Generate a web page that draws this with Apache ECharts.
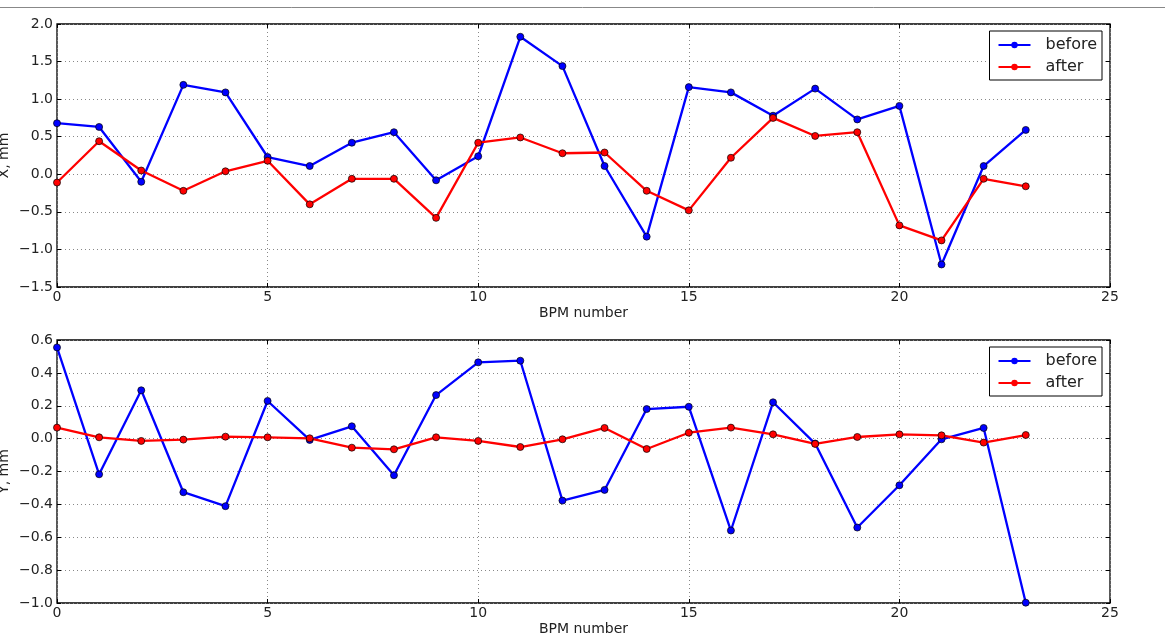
<!DOCTYPE html>
<html>
<head>
<meta charset="utf-8">
<script src="https://cdn.jsdelivr.net/npm/echarts@6/dist/echarts.min.js"></script>
<style>
html,body{margin:0;padding:0;background:#fff;}
#c{width:1165px;height:642px;}
</style>
</head>
<body>
<div id="c"></div>
<script>
const bpm = [0,1,2,3,4,5,6,7,8,9,10,11,12,13,14,15,16,17,18,19,20,21,22,23];
const xBefore = [0.68,0.63,-0.10,1.19,1.09,0.23,0.11,0.42,0.56,-0.08,0.24,1.83,1.44,0.11,-0.83,1.16,1.09,0.78,1.14,0.73,0.91,-1.20,0.11,0.59];
const xAfter = [-0.11,0.44,0.05,-0.22,0.04,0.18,-0.40,-0.06,-0.06,-0.58,0.42,0.49,0.28,0.29,-0.22,-0.48,0.22,0.75,0.51,0.56,-0.68,-0.88,-0.06,-0.16];
const yBefore = [0.555,-0.217,0.294,-0.326,-0.411,0.229,-0.008,0.075,-0.223,0.265,0.464,0.474,-0.377,-0.312,0.180,0.194,-0.559,0.221,-0.030,-0.541,-0.284,-0.004,0.065,-0.998];
const yAfter = [0.067,0.008,-0.014,-0.006,0.012,0.008,0.002,-0.055,-0.065,0.008,-0.014,-0.051,-0.004,0.065,-0.063,0.036,0.067,0.026,-0.032,0.010,0.026,0.020,-0.024,0.022];
const yNames = ['X, mm', 'Y, mm'];

const pairs = vals => bpm.map((b,i)=>[b, vals[i]]);
const FONT = 'DejaVu Sans';
const minus = s => s.replace('-', '\u2212');
const tickFmt1 = v => minus(v.toFixed(1));

const chart = echarts.init(document.getElementById('c'), null, {renderer:'canvas'});

function xAx(gi, pos, labels){
  return {
    type:'value', gridIndex:gi, position:pos, min:0, max:25, interval:5,
    name: labels ? 'BPM number' : '', nameLocation:'middle', nameGap:19,
    nameTextStyle:{fontFamily:FONT, fontSize:14, color:'#222'},
    axisLine:{show:false, onZero:false},
    axisTick:{show:true, inside:true, length:4, lineStyle:{color:'#000'}},
    axisLabel:{show:labels, fontFamily:FONT, fontSize:14, color:'#222', margin:3, formatter:v=>String(v)},
    splitLine:{show:labels, lineStyle:{color:'#888', type:[1,3], width:1}}
  };
}
function yAx(gi, pos, labels, min, max, interval){
  return {
    type:'value', gridIndex:gi, position:pos, min:min, max:max, interval:interval,
    axisLine:{show:false, onZero:false},
    axisTick:{show:true, inside:true, length:4, lineStyle:{color:'#000'}},
    axisLabel:{show:labels, fontFamily:FONT, fontSize:14, color:'#222', margin:4, formatter:tickFmt1},
    splitLine:{show:labels, lineStyle:{color:'#888', type:[1,3], width:1}}
  };
}
function ser(name, xi, yi, vals, color){
  return {
    name:name, type:'line', xAxisIndex:xi, yAxisIndex:yi, data:pairs(vals),
    symbol:'circle', symbolSize:7, clip:false,
    lineStyle:{color:color, width:2.3},
    itemStyle:{color:color, borderColor:'#000', borderWidth:0.7},
    emphasis:{disabled:true}, animation:false, z:3
  };
}
function leg(top){
  return {
    data:['before','after'], orient:'vertical', right:63, top:top,
    itemWidth:32, itemHeight:8, itemGap:4,
    padding:[5,5,4,8],
    backgroundColor:'#fff', borderColor:'#000', borderWidth:1, borderRadius:0,
    itemStyle:{borderWidth:0},
    textStyle:{fontFamily:FONT, fontSize:16, color:'#222', padding:[0,0,0,10], lineHeight:18}
  };
}
function yName(text, cy){
  return {type:'text', x:11, y:cy, rotation:Math.PI/2,
    style:{text:text, font:'14px "DejaVu Sans"', fill:'#222', align:'center', verticalAlign:'bottom'}};
}

chart.setOption({
  animation:false,
  backgroundColor:'#fff',
  graphic:[
    {type:'line', shape:{x1:0,y1:7.5,x2:1165,y2:7.5}, style:{stroke:'#888', lineWidth:1}},
    yName(yNames[0], 155.5),
    yName(yNames[1], 471.5)
  ],
  grid:[
    {left:57, right:55, top:24, height:263, containLabel:false, outerBoundsMode:'none', show:true, borderColor:'#000', borderWidth:1.3, backgroundColor:'transparent'},
    {left:57, right:55, top:340, height:263, containLabel:false, outerBoundsMode:'none', show:true, borderColor:'#000', borderWidth:1.3, backgroundColor:'transparent'}
  ],
  xAxis:[xAx(0,'bottom',true), xAx(1,'bottom',true), xAx(0,'top',false), xAx(1,'top',false)],
  yAxis:[yAx(0,'left',true,-1.5,2.0,0.5), yAx(1,'left',true,-1.0,0.6,0.2),
         yAx(0,'right',false,-1.5,2.0,0.5), yAx(1,'right',false,-1.0,0.6,0.2)],
  legend:[leg(31), leg(347)],
  series:[
    ser('before',0,0,xBefore,'#0000ff'),
    ser('after',0,0,xAfter,'#ff0000'),
    ser('before',1,1,yBefore,'#0000ff'),
    ser('after',1,1,yAfter,'#ff0000')
  ]
});
</script>
</body>
</html>
